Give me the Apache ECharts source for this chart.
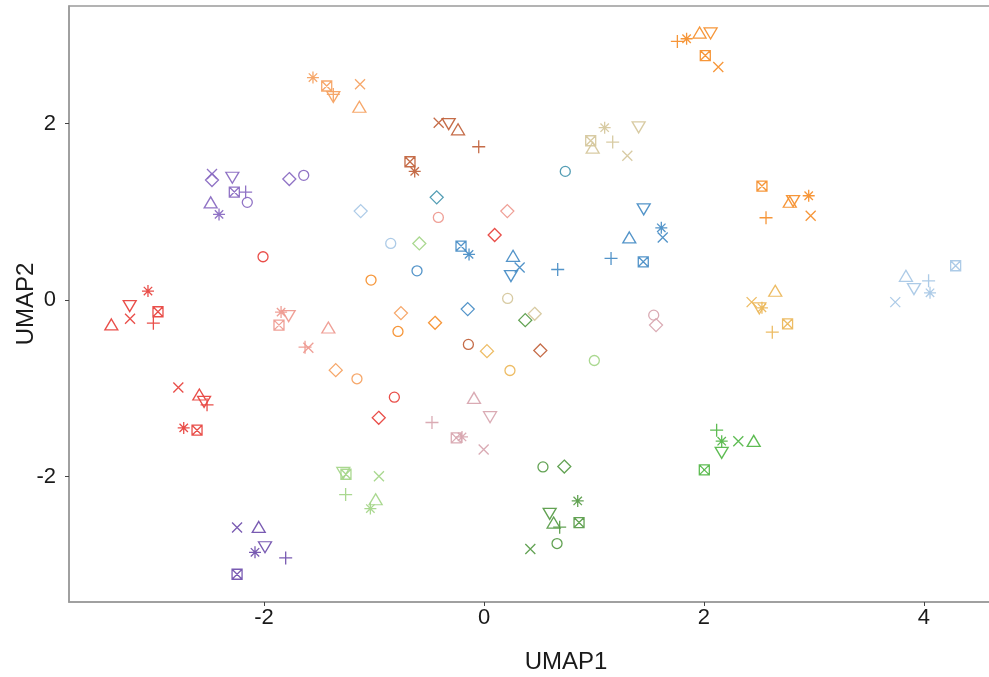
<!DOCTYPE html>
<html>
<head>
<meta charset="utf-8">
<script src="https://cdn.jsdelivr.net/npm/echarts@6/dist/echarts.min.js"></script>
<style>
html,body{margin:0;padding:0;background:#fff;overflow:hidden;}
#chart{width:989px;height:677px;}
</style>
</head>
<body>
<div id="chart"></div>
<script>
// ---- data: [UMAP1, UMAP2, shape] ----
const xTicks = [-2, 0, 2, 4];
const yTicks = [-2, 0, 2];

const red = [
  [-3.055, 0.102, 'asterisk'], [-3.221, -0.068, 'invtri'], [-3.388, -0.275, 'tri'],
  [-3.218, -0.211, 'x'], [-3.006, -0.261, 'plus'], [-2.964, -0.132, 'sqx'],
  [-2.779, -0.99, 'x'], [-2.588, -1.069, 'tri'], [-2.545, -1.152, 'invtri'],
  [-2.518, -1.186, 'plus'], [-2.73, -1.447, 'asterisk'], [-2.609, -1.473, 'sqx'],
  [-2.009, 0.491, 'circle'], [0.097, 0.737, 'diamond'], [-0.957, -1.333, 'diamond'],
  [-0.815, -1.099, 'circle']
];
const pink = [
  [-1.845, -0.136, 'asterisk'], [-1.776, -0.181, 'invtri'], [-1.864, -0.283, 'sqx'],
  [-1.627, -0.533, 'plus'], [-1.597, -0.54, 'x'], [-1.415, -0.31, 'tri'],
  [-0.415, 0.937, 'circle'], [0.212, 1.008, 'diamond']
];
const mauve = [
  [-0.091, -1.107, 'tri'], [0.055, -1.326, 'invtri'], [-0.473, -1.386, 'plus'],
  [-0.252, -1.56, 'sqx'], [-0.2, -1.549, 'asterisk'], [-0.003, -1.692, 'x'],
  [1.543, -0.17, 'circle'], [1.564, -0.283, 'diamond']
];
const lightGreen = [
  [-1.279, -1.957, 'invtri'], [-1.255, -1.972, 'sqx'], [-0.955, -1.994, 'x'],
  [-1.258, -2.202, 'plus'], [-0.985, -2.255, 'tri'], [-1.033, -2.361, 'asterisk'],
  [-0.588, 0.642, 'diamond'], [1.003, -0.684, 'circle']
];
const green = [
  [2.115, -1.473, 'plus'], [2.161, -1.598, 'asterisk'], [2.312, -1.598, 'x'],
  [2.452, -1.594, 'tri'], [2.161, -1.73, 'invtri'], [2.003, -1.923, 'sqx']
];
const darkGreen = [
  [0.536, -1.889, 'circle'], [0.73, -1.885, 'diamond'], [0.852, -2.274, 'asterisk'],
  [0.597, -2.421, 'invtri'], [0.633, -2.519, 'tri'], [0.688, -2.572, 'plus'],
  [0.864, -2.519, 'sqx'], [0.664, -2.757, 'circle'], [0.421, -2.818, 'x'],
  [0.375, -0.227, 'diamond']
];
const blue = [
  [-0.209, 0.612, 'sqx'], [-0.136, 0.518, 'asterisk'], [-0.609, 0.332, 'circle'],
  [0.264, 0.502, 'tri'], [0.245, 0.272, 'invtri'], [0.324, 0.37, 'x'],
  [0.67, 0.347, 'plus'], [1.155, 0.472, 'plus'], [1.448, 0.434, 'sqx'],
  [1.321, 0.71, 'tri'], [1.452, 1.028, 'invtri'], [1.612, 0.819, 'asterisk'],
  [1.625, 0.71, 'x'], [-0.148, -0.102, 'diamond']
];
const teal = [
  [-0.43, 1.164, 'diamond'], [0.739, 1.458, 'circle']
];
const lightBlue = [
  [4.288, 0.389, 'sqx'], [3.836, 0.275, 'tri'], [4.042, 0.219, 'plus'],
  [3.909, 0.125, 'invtri'], [4.055, 0.083, 'asterisk'], [3.739, -0.023, 'x'],
  [-1.121, 1.008, 'diamond'], [-0.848, 0.642, 'circle']
];
const purple = [
  [-2.473, 1.428, 'x'], [-2.473, 1.36, 'diamond'], [-2.288, 1.386, 'invtri'],
  [-2.27, 1.224, 'sqx'], [-2.167, 1.224, 'plus'], [-2.485, 1.107, 'tri'],
  [-2.152, 1.107, 'circle'], [-2.409, 0.971, 'asterisk'], [-1.77, 1.371, 'diamond'],
  [-1.639, 1.413, 'circle']
];
const darkPurple = [
  [-2.245, -2.576, 'x'], [-2.048, -2.569, 'tri'], [-1.991, -2.799, 'invtri'],
  [-2.082, -2.856, 'asterisk'], [-1.803, -2.92, 'plus'], [-2.245, -3.105, 'sqx']
];
const orange = [
  [1.758, 2.93, 'plus'], [1.842, 2.96, 'asterisk'], [1.96, 3.03, 'tri'],
  [2.06, 3.02, 'invtri'], [2.012, 2.77, 'sqx'], [2.13, 2.64, 'x'],
  [2.527, 1.292, 'sqx'], [2.78, 1.114, 'tri'], [2.81, 1.122, 'invtri'],
  [2.952, 1.182, 'asterisk'], [2.97, 0.955, 'x'], [2.564, 0.933, 'plus'],
  [-0.445, -0.257, 'diamond'], [-0.782, -0.355, 'circle'], [-1.027, 0.227, 'circle']
];
const salmon = [
  [-1.555, 2.52, 'asterisk'], [-1.43, 2.425, 'sqx'], [-1.37, 2.30, 'invtri'],
  [-1.37, 2.33, 'plus'], [-1.127, 2.444, 'x'], [-1.133, 2.19, 'tri'],
  [-0.755, -0.147, 'diamond'], [-1.348, -0.793, 'diamond'], [-1.155, -0.891, 'circle']
];
const gold = [
  [2.433, -0.023, 'x'], [2.503, -0.094, 'invtri'], [2.527, -0.087, 'asterisk'],
  [2.76, -0.268, 'sqx'], [2.621, -0.363, 'plus'], [2.648, 0.106, 'tri'],
  [0.027, -0.578, 'diamond'], [0.236, -0.797, 'circle']
];
const tan = [
  [0.97, 1.805, 'sqx'], [0.988, 1.726, 'tri'], [1.097, 1.953, 'asterisk'],
  [1.17, 1.79, 'plus'], [1.303, 1.635, 'x'], [1.406, 1.957, 'invtri'],
  [0.215, 0.019, 'circle'], [0.461, -0.155, 'diamond']
];
const brown = [
  [-0.412, 2.009, 'x'], [-0.321, 1.994, 'invtri'], [-0.236, 1.934, 'tri'],
  [-0.048, 1.737, 'plus'], [-0.673, 1.567, 'sqx'], [-0.63, 1.458, 'asterisk'],
  [-0.142, -0.502, 'circle'], [0.512, -0.57, 'diamond']
];

// ---- styling ----
const groups = [
  { name: 'red', data: red, color: '#e8453f' },
  { name: 'pink', data: pink, color: '#ee9a90' },
  { name: 'mauve', data: mauve, color: '#d8a6b0' },
  { name: 'lightGreen', data: lightGreen, color: '#a5d68a' },
  { name: 'green', data: green, color: '#55b84a' },
  { name: 'darkGreen', data: darkGreen, color: '#5a9d4a' },
  { name: 'blue', data: blue, color: '#4a8ec6' },
  { name: 'teal', data: teal, color: '#4a98b0' },
  { name: 'lightBlue', data: lightBlue, color: '#a9c8e6' },
  { name: 'purple', data: purple, color: '#8a6cc2' },
  { name: 'darkPurple', data: darkPurple, color: '#7252ae' },
  { name: 'orange', data: orange, color: '#f5902e' },
  { name: 'salmon', data: salmon, color: '#f5a262' },
  { name: 'gold', data: gold, color: '#ecb85c' },
  { name: 'tan', data: tan, color: '#d6c89e' },
  { name: 'brown', data: brown, color: '#c2643e' }
];

const SYMBOLS = {
  circle: 'circle',
  diamond: 'path://M5,0 L10,5 L5,10 L0,5 Z',
  tri: 'path://M5,0 L10,8.66 L0,8.66 Z',
  invtri: 'path://M0,0 L10,0 L5,8.66 Z',
  x: 'path://M0,0 L10,10 M10,0 L0,10',
  plus: 'path://M5,0 L5,10 M0,5 L10,5',
  asterisk: 'path://M5,0 L5,10 M0,5 L10,5 M1.5,1.5 L8.5,8.5 M8.5,1.5 L1.5,8.5',
  sqx: 'path://M0,0 L10,0 L10,10 L0,10 Z M0,0 L10,10 M10,0 L0,10'
};
const SIZES = {
  circle: 10, diamond: 13, tri: [13, 11], invtri: [13, 11],
  x: 10, plus: 13, asterisk: 12, sqx: 10
};

const chart = echarts.init(document.getElementById('chart'), null, { renderer: 'canvas' });

const axisColor = '#9a9a9a';
const labelColor = '#1a1a1a';
const fontFamily = 'Liberation Sans, Arial, sans-serif';

chart.setOption({
  animation: false,
  backgroundColor: '#ffffff',
  grid: {
    left: 69, top: 6, right: -74, bottom: 75,
    outerBoundsMode: 'none',
    show: true, borderColor: axisColor, borderWidth: 1.5, containLabel: false
  },
  xAxis: {
    type: 'value',
    min: -3.773, max: 5.264,
    name: 'UMAP1', nameLocation: 'middle', nameGap: 48,
    nameTextStyle: { fontSize: 24, color: labelColor, fontFamily: fontFamily },
    axisLine: { show: true, onZero: false, lineStyle: { color: axisColor, width: 1.5 } },
    axisTick: { show: true, length: 4, customValues: xTicks, lineStyle: { color: '#444', width: 1 } },
    axisLabel: { customValues: xTicks, fontSize: 22, color: labelColor, margin: 5, fontFamily: fontFamily },
    splitLine: { show: false }
  },
  yAxis: {
    type: 'value',
    min: -3.419, max: 3.331,
    name: 'UMAP2', nameLocation: 'middle', nameGap: 31, nameRotate: 90,
    nameMoveOverlap: false,
    nameTextStyle: { fontSize: 24, color: labelColor, fontFamily: fontFamily },
    axisLine: { show: true, onZero: false, lineStyle: { color: axisColor, width: 1.5 } },
    axisTick: { show: true, length: 4, customValues: yTicks, lineStyle: { color: '#444', width: 1 } },
    axisLabel: { customValues: yTicks, fontSize: 22, color: labelColor, margin: 13, fontFamily: fontFamily },
    splitLine: { show: false }
  },
  series: groups.map(g => ({
    type: 'scatter',
    name: g.name,
    data: g.data,
    encode: { x: 0, y: 1 },
    symbol: (v) => SYMBOLS[v[2]],
    symbolSize: (v) => SIZES[v[2]],
    itemStyle: {
      color: 'rgba(255,255,255,0)',
      borderColor: g.color,
      borderWidth: 1.3,
      opacity: 0.95
    },
    emphasis: { disabled: true }
  }))
});
</script>
</body>
</html>
